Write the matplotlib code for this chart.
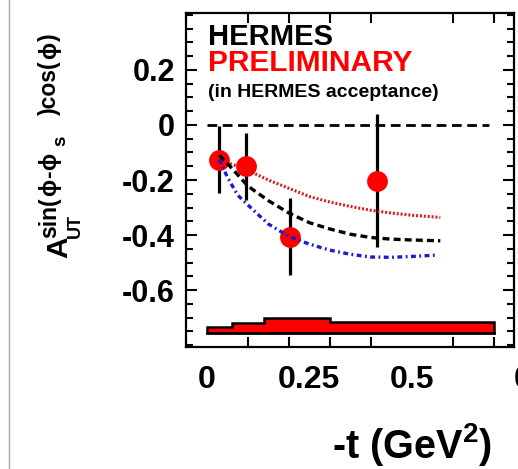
import matplotlib
matplotlib.use("Agg")
import matplotlib.pyplot as plt
from matplotlib.lines import Line2D
from matplotlib.ticker import MultipleLocator, FixedLocator

plt.rcParams['font.family'] = ['Liberation Sans', 'DejaVu Sans']
plt.rcParams['font.weight'] = 'bold'
plt.rcParams['mathtext.fontset'] = 'custom'
plt.rcParams['mathtext.rm'] = 'Liberation Sans:bold'
plt.rcParams['mathtext.it'] = 'Liberation Sans:bold'
plt.rcParams['mathtext.bf'] = 'Liberation Sans:bold'
plt.rcParams['mathtext.sf'] = 'Liberation Sans:bold'
plt.rcParams['lines.scale_dashes'] = False

# ---- data ----
t_points = [0.03, 0.095, 0.202, 0.415]
a_points = [-0.126, -0.150, -0.406, -0.202]
a_errors = [0.121, 0.122, 0.139, 0.243]

red_x = [0.03, 0.10, 0.15, 0.20, 0.25, 0.30, 0.35, 0.40, 0.45, 0.50, 0.57]
red_y = [-0.125, -0.165, -0.200, -0.230, -0.260, -0.280, -0.296, -0.310, -0.320, -0.328, -0.336]

black_x = [0.03, 0.05, 0.10, 0.15, 0.20, 0.25, 0.30, 0.35, 0.40, 0.45, 0.50, 0.57]
black_y = [-0.110, -0.140, -0.222, -0.275, -0.320, -0.355, -0.378, -0.397, -0.409, -0.415, -0.418, -0.421]

blue_x = [0.03, 0.05, 0.075, 0.11, 0.15, 0.20, 0.25, 0.30, 0.35, 0.40, 0.45, 0.50, 0.56]
blue_y = [-0.125, -0.190, -0.255, -0.305, -0.360, -0.405, -0.433, -0.455, -0.470, -0.480, -0.481, -0.478, -0.473]

sys_edges = [0.0, 0.06, 0.14, 0.30, 0.70]
sys_tops = [-0.733, -0.719, -0.703, -0.715]
sys_base = -0.757

xtick_pos = [0.0, 0.25, 0.5, 0.75]
xtick_labels = ['0', '0.25', '0.5', '0.75']
ytick_pos = [-0.6, -0.4, -0.2, 0.0, 0.2]
ytick_labels = ['-0.6', '-0.4', '-0.2', '0', '0.2']

W, H = 518, 469
fig = plt.figure(figsize=(W / 100, H / 100), dpi=100)
ax = fig.add_axes([186 / W, 1 - 347 / H, (514 - 186) / W, (347 - 13) / H])
ax.set_xlim(-0.0512, 0.7488)
ax.set_ylim(-0.807, 0.407)

# zero line
ax.plot([0.0, 0.69], [0, 0], color='black', lw=2.0, dashes=(7, 4), zorder=2)

# systematic band
ax.stairs(sys_tops, sys_edges, baseline=sys_base, fill=True, color='#ff0000', zorder=2)
ax.stairs(sys_tops, sys_edges, baseline=sys_base, fill=False, color='black', lw=1.8, zorder=3)
ax.plot([sys_edges[0], sys_edges[-1]], [sys_base, sys_base], color='black', lw=2.0, zorder=3)

# error bars and points
ax.errorbar(t_points, a_points, yerr=a_errors, fmt='none', ecolor='black', elinewidth=2.3, capsize=0, zorder=4)
ax.plot(t_points, a_points, 'o', color='#ff0000', markersize=15, markeredgewidth=0, zorder=5)

# model curves
ax.plot(red_x, red_y, color='#dd1414', lw=2.2, dashes=(1.4, 1.4), zorder=6)
ax.plot(black_x, black_y, color='black', lw=2.4, dashes=(5, 3), zorder=6)
ax.plot(blue_x, blue_y, color='#1a1ad0', lw=2.4, dashes=(3.5, 2.5, 1.3, 2.5), zorder=6)

# texts
ax.text(0.0024, 0.290, 'HERMES', color='black', fontsize=21, fontweight='bold', va='baseline', ha='left')
ax.text(0.0024, 0.197, 'PRELIMINARY', color='#ff0000', fontsize=21.5, fontweight='bold', va='baseline', ha='left')
ax.text(0.0024, 0.103, '(in HERMES acceptance)', color='black', fontsize=14, fontweight='bold', va='baseline', ha='left')

# ticks
ax.set_xticks(xtick_pos)
ax.set_xticklabels(xtick_labels, fontsize=23, fontweight='bold')
ax.xaxis.set_minor_locator(FixedLocator([0.0, 0.1, 0.2, 0.3, 0.4, 0.5, 0.6, 0.7]))
ax.tick_params(axis='x', which='major', length=0, pad=13)
ax.tick_params(axis='x', which='minor', length=7.5, width=1.5, direction='in', top=True, bottom=True)
ax.get_xticklabels()[-1].set_horizontalalignment('left')

ax.set_yticks(ytick_pos)
ax.set_yticklabels(ytick_labels, fontsize=22, fontweight='bold')
ax.yaxis.set_minor_locator(MultipleLocator(0.05))
ax.tick_params(axis='y', which='major', length=8, width=1.5, direction='in', left=True, right=True, pad=8)
ax.tick_params(axis='y', which='minor', length=5, width=1.5, direction='in', left=True, right=True)

for s in ax.spines.values():
    s.set_linewidth(1.6)

# x axis title
fig.text(412 / W, 1 - 458 / H, r'-t (GeV$^{2}$)', fontsize=28.5, fontweight='bold', ha='center', va='baseline')

# y axis title, built from rotated pieces
phi = '\u03d5'
renderer = fig.canvas.get_renderer()


def rot_text(txt, bx, sy, fs):
    t = fig.text(bx / W, 1 - sy / H, txt, fontsize=fs, fontweight='bold', rotation=90,
                 rotation_mode='anchor', ha='left', va='baseline',
                 family=['Liberation Sans', 'DejaVu Sans'])
    bb = t.get_window_extent(renderer)
    return H - bb.y1  # top edge in pixels from the image top


rot_text('A', 67, 258, 21.5)
rot_text('UT', 80, 238, 13)

# superscript chain: (text, baseline x, preferred start y, size)
sup_pieces = [
    ('sin(', 56, 238, 16.5),
    (phi, 56, 200, 16.5),
    ('-', 56, 184, 16.5),
    (phi, 56, 171, 16.5),
    ('s', 65, 146, 13.5),
    (')cos(', 56, 115, 16.5),
    (phi, 56, 59, 16.5),
    (')', 56, 41, 16.5),
]
prev_end = None
for txt, bx, sy, fs in sup_pieces:
    if prev_end is not None:
        sy = min(sy, prev_end - 1)
    prev_end = rot_text(txt, bx, sy, fs)

# thin grey frame line at left
fig.add_artist(Line2D([9 / W, 9 / W], [0, 1], transform=fig.transFigure, color='#aaaaaa', lw=1))

fig.savefig('out.png', dpi=100)
